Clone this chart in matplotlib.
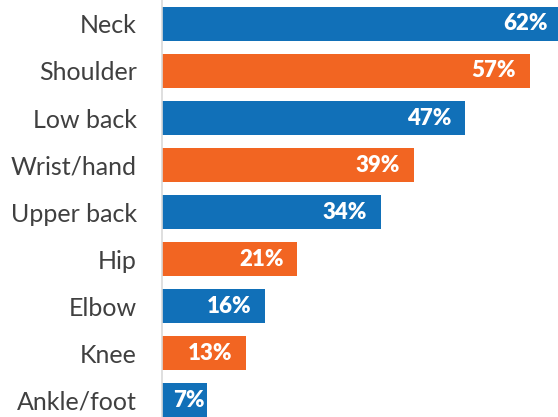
import matplotlib.pyplot as plt

regions = ['Neck', 'Shoulder', 'Low back', 'Wrist/hand', 'Upper back',
           'Hip', 'Elbow', 'Knee', 'Ankle/foot']
percent = [62, 57, 47, 39, 34, 21, 16, 13, 7]

blue = '#1170b8'
orange = '#f26522'
colors = [blue if i % 2 == 0 else orange for i in range(len(regions))]

plt.rcParams['font.family'] = ['Lato', 'DejaVu Sans']

fig = plt.figure(figsize=(5.58, 4.17), dpi=100)
ax = fig.add_axes([162 / 558, 0, 1 - 162 / 558, 1])

ypos = list(range(len(regions)))
ax.barh(ypos, percent, height=0.72, color=colors)

ax.set_xlim(0, 61.4)
ax.set_ylim(8.36, -0.51)
ax.set_yticks(ypos)
ax.set_yticklabels(regions, fontsize=18, color='#404040')
ax.tick_params(axis='y', length=0, pad=18)
ax.set_xticks([])
for side in ['top', 'right', 'bottom']:
    ax.spines[side].set_visible(False)
ax.spines['left'].set_color('#d9d9d9')
ax.spines['left'].set_linewidth(1.2)

# value labels just inside the end of each bar
for y, v in zip(ypos, percent):
    pad = -14 if v >= 10 else -3
    ax.annotate(f'{v}%', xy=(v, y), xytext=(pad, 0), textcoords='offset pixels',
                ha='right', va='center', color='white', fontsize=16,
                fontweight='heavy', annotation_clip=False)

fig.savefig('out.png', dpi=100)
